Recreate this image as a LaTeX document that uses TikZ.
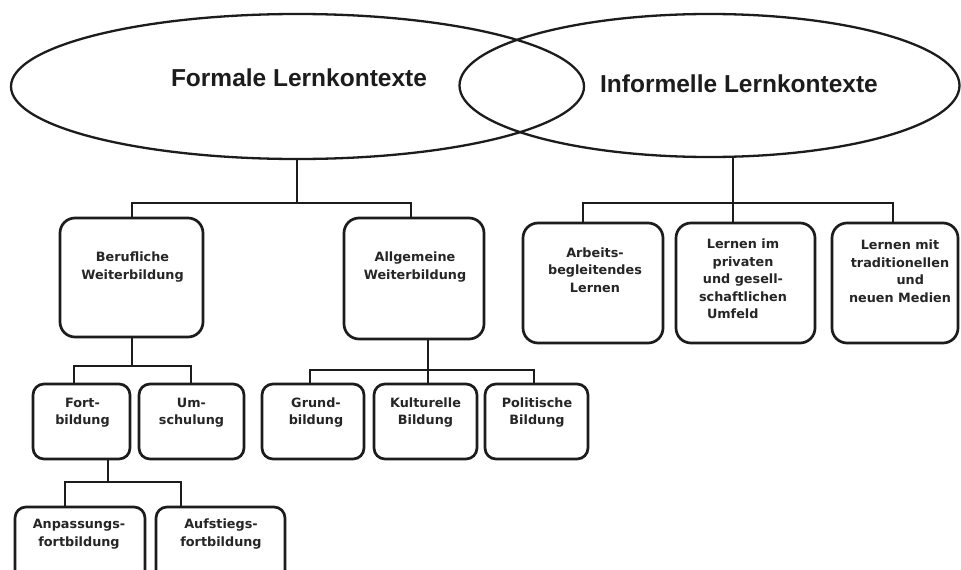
\documentclass[tikz,border=0pt]{standalone}
\usepackage{fontspec}
\usetikzlibrary{shapes.geometric}
\newfontfamily\titlefont{Liberation Sans}
\newfontfamily\boxfont{DejaVu Sans}
\definecolor{ink}{HTML}{1C1C1C}
\definecolor{txt}{HTML}{262626}
\newcommand\mybox[6]{\node[#6, minimum width={#4-#2}, minimum height={#5-#3}] (#1) at ({(#2+#4)/2},{(#3+#5)/2}) {};}
\begin{document}
\begin{tikzpicture}[x=1pt,y=-1pt,
  ell/.style={ellipse, draw=ink, line width=2.3pt, inner sep=0pt},
  title/.style={font=\titlefont\bfseries\fontsize{24.5}{28}\selectfont, text=ink, inner sep=0pt, anchor=base},
  boxbig/.style={draw=ink, line width=2.7pt, rounded corners=15pt, inner sep=0pt},
  boxsmall/.style={draw=ink, line width=2.7pt, rounded corners=11pt, inner sep=0pt},
  tx/.style={font=\boxfont\bfseries\fontsize{12.8}{17.5}\selectfont, align=center, text=txt, inner sep=0pt},
  conn/.style={draw=ink, line width=2.6pt}]
\useasboundingbox (0,0) rectangle (961,570);
\clip (0,0) rectangle (961,570);
\fill[white] (0,0) rectangle (961,570);
% ellipses
\node[ell, minimum width=573pt, minimum height=145pt] (F) at (297.5,86.5) {};
\node[ell, minimum width=500pt, minimum height=143pt] (I) at (709.5,85.5) {};
\node[title] (Ft) at (299,86) {Formale Lernkontexte};
\node[title] (It) at (739,92) {Informelle Lernkontexte};
% boxes: name, x1, y1, x2, y2
\mybox{BW}{60}{218}{203}{337}{boxbig}
\mybox{AW}{344}{218}{484}{339}{boxbig}
\mybox{Fo}{33}{384}{130}{459}{boxsmall}
\mybox{Um}{139}{384}{244}{459}{boxsmall}
\mybox{Gr}{262}{384}{364}{459}{boxsmall}
\mybox{Ku}{374}{384}{477}{459}{boxsmall}
\mybox{Po}{485}{384}{588}{459}{boxsmall}
\mybox{An}{15}{507}{145}{620}{boxsmall}
\mybox{Au}{156}{507}{285}{620}{boxsmall}
\mybox{Ar}{523}{223}{663}{343}{boxbig}
\mybox{LI}{676}{223}{815}{343}{boxbig}
\mybox{LM}{832}{223}{958}{343}{boxbig}
% texts
\node[tx] (BWt) at (132.5,267) {Berufliche\\Weiterbildung};
\node[tx] (AWt) at (415,267) {Allgemeine\\Weiterbildung};
\node[tx] (Fot) at (82.5,412.5) {Fort-\\bildung};
\node[tx] (Umt) at (191.5,412.5) {Um-\\schulung};
\node[tx] (Grt) at (316,412.5) {Grund-\\bildung};
\node[tx] (Kut) at (425.5,412.5) {Kulturelle\\Bildung};
\node[tx] (Pot) at (537,412.5) {Politische\\Bildung};
\node[tx] (Ant) at (79,534) {Anpassungs-\\fortbildung};
\node[tx] (Aut) at (221,534) {Aufstiegs-\\fortbildung};
\node[tx] (Art) at (595,270) {Arbeits-\\begleitendes\\Lernen};
\node[tx] (LIt) at (743,279) {Lernen im\\privaten\\und gesell-\\schaftlichen\\Umfeld\hspace*{1.6em}};
\node[tx] (LMt) at (900,271) {Lernen mit\\traditionellen\\\hspace*{1.6em}und\\neuen Medien};
% junctions
\coordinate (j1) at (297,203);
\coordinate (j2) at (132,366);
\coordinate (j3) at (428,370);
\coordinate (j4) at (108,482);
\coordinate (j5) at (733,203);
% connectors
\draw[conn] (F.south -| j1) -- (j1);
\draw[conn] (BW.north -| 132,0) |- (j1) -| (AW.north -| 411,0);
\draw[conn] (BW.south -| j2) -- (j2);
\draw[conn] (Fo.north -| 74,0) |- (j2) -| (Um.north -| 191,0);
\draw[conn] (AW.south -| j3) -- (j3);
\draw[conn] (Gr.north -| 310,0) |- (j3) -| (Po.north -| 534,0);
\draw[conn] (j3) -- (Ku.north -| j3);
\draw[conn] (Fo.south -| j4) -- (j4);
\draw[conn] (An.north -| 65,0) |- (j4) -| (Au.north -| 181,0);
\draw[conn] (I.south -| j5) -- (j5);
\draw[conn] (Ar.north -| 583,0) |- (j5) -| (LM.north -| 893,0);
\draw[conn] (j5) -- (LI.north -| j5);
\end{tikzpicture}
\end{document}
